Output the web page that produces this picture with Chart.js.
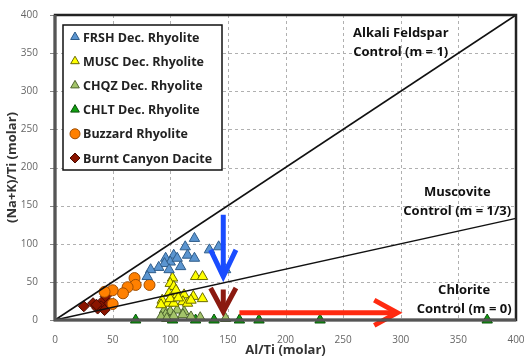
<!DOCTYPE html>
<html>
<head>
<meta charset="utf-8">
<script src="https://cdn.jsdelivr.net/npm/chart.js@4.4.1/dist/chart.umd.min.js"></script>
<style>
  html, body { margin: 0; padding: 0; background: #fff; }
  #wrap { width: 524px; height: 362px; }
</style>
</head>
<body>
<div id="wrap"><canvas id="chart" width="524" height="362"></canvas></div>
<script>
// Al/Ti vs (Na+K)/Ti, molar
const frshX = [121, 113, 134, 103, 96, 115, 121, 100, 95, 109, 90, 83, 99, 142, 80, 106, 148];
const frshY = [107, 96, 92, 85, 81, 85, 81, 76, 74, 70, 69, 66, 66, 96, 57, 81, 66];
const muscX = [102, 122, 128, 100, 103, 99, 106, 112, 120, 128, 93, 98, 103, 111, 115, 92, 100, 118, 105, 107];
const muscY = [55, 57, 57, 48, 44, 35, 33, 33, 31, 28, 26, 22, 22, 24, 22, 20, 28, 26, 39, 29];
const chqzX = [95, 100, 106, 112, 96, 103, 111, 92, 118, 126, 148, 97];
const chqzY = [13, 11, 13, 11, 7, 5, 7, 4, 4, 3, 2, 2];
const chltX = [70, 102, 122, 138, 160, 177, 230, 375];
const chltY = [0, 0, 0, 0, 0, 0, 0, 0];
const buzzX = [69, 70, 63, 59, 50, 82, 50, 43];
const buzzY = [55, 46, 43, 35, 39, 46, 21, 37];
const burntX = [25, 33, 41, 44, 40, 37, 47, 43, 36];
const burntY = [18, 22, 24, 31, 18, 15, 22, 13, 20];

const seriesNames = ['FRSH Dec. Rhyolite', 'MUSC Dec. Rhyolite', 'CHQZ Dec. Rhyolite',
                     'CHLT Dec. Rhyolite', 'Buzzard Rhyolite', 'Burnt Canyon Dacite'];

// control lines (slope m) and arrows, in data units
const feldsparLine = [[0, 0], [400, 400]];
const muscoviteLine = [[0, 0], [400, 133.3]];
const blueArrow = [[146, 138], [146, 58]];
const blueHead = [[135, 92], [146, 57], [157, 92]];
const redArrowV = [[146, 40], [146, 12]];
const redHeadV = [[135, 42], [146, 11], [157, 42]];
const redArrow = [[160, 9.5], [296, 9.5]];
const redHead = [[277, 26], [297, 9.5], [277, -7]];

const labels = [
  { lines: ['Alkali Feldspar', 'Control (m = 1)'], x: 300, y: 376 },
  { lines: ['Muscovite', 'Control (m = 1/3)'], x: 349, y: 168 },
  { lines: ['Chlorite', 'Control (m = 0)'], x: 355, y: 39 }
];

const xTicks = [0, 50, 100, 150, 200, 250, 300, 350, 400];
const yTicks = [0, 50, 100, 150, 200, 250, 300, 350, 400];

const pts = (xs, ys) => xs.map((x, i) => ({ x: x, y: ys[i] }));
const pairs = arr => arr.map(p => ({ x: p[0], y: p[1] }));

function markerSet(label, xs, ys, style, bg, border, r) {
  return {
    type: 'scatter', label: label, data: pts(xs, ys),
    pointStyle: style, pointRadius: r, pointBackgroundColor: bg,
    pointBorderColor: border, pointBorderWidth: 1, clip: false
  };
}
function lineSet(data, color, width) {
  return {
    type: 'line', data: pairs(data), borderColor: color, borderWidth: width,
    pointRadius: 0, fill: false, tension: 0, clip: false
  };
}

const markers = [
  markerSet(seriesNames[0], frshX, frshY, 'triangle', '#5b95d0', '#2e5c8a', 6),
  markerSet(seriesNames[1], muscX, muscY, 'triangle', '#ffff00', '#6b6b00', 6),
  markerSet(seriesNames[2], chqzX, chqzY, 'triangle', '#a3c46a', '#4f6630', 6),
  markerSet(seriesNames[3], chltX, chltY, 'triangle', '#11a011', '#0a4f0a', 6),
  markerSet(seriesNames[4], buzzX, buzzY, 'circle', '#ff8000', '#a04d00', 5.5),
  markerSet(seriesNames[5], burntX, burntY, 'rectRot', '#8b1500', '#4a0a00', 5.5)
];

const annotLines = [
  lineSet(feldsparLine, '#111', 1.5),
  lineSet(muscoviteLine, '#111', 1.5),
  lineSet(blueArrow, '#1a4cff', 5),
  lineSet(blueHead, '#1a4cff', 5),
  lineSet(redArrowV, '#8b1a10', 5),
  lineSet(redHeadV, '#8b1a10', 5),
  lineSet(redArrow, '#ff2a10', 5),
  lineSet(redHead, '#ff2a10', 5)
];

const FONT = '"Open Sans", sans-serif';

const extras = {
  id: 'extras',
  beforeDatasetsDraw(chart) {
    const ctx = chart.ctx, a = chart.chartArea;
    const sx = chart.scales.x, sy = chart.scales.y;
    ctx.save();
    // dashed grid
    ctx.strokeStyle = '#b0b0b0';
    ctx.lineWidth = 1;
    ctx.setLineDash([3, 3]);
    xTicks.forEach(v => {
      const px = Math.round(sx.getPixelForValue(v)) + 0.5;
      ctx.beginPath(); ctx.moveTo(px, a.top); ctx.lineTo(px, a.bottom); ctx.stroke();
    });
    yTicks.forEach(v => {
      const py = Math.round(sy.getPixelForValue(v)) + 0.5;
      ctx.beginPath(); ctx.moveTo(a.left, py); ctx.lineTo(a.right, py); ctx.stroke();
    });
    ctx.setLineDash([]);
    // tick marks
    ctx.strokeStyle = '#888';
    yTicks.forEach(v => {
      const py = Math.round(sy.getPixelForValue(v)) + 0.5;
      ctx.beginPath(); ctx.moveTo(a.left - 5, py); ctx.lineTo(a.left, py); ctx.stroke();
    });
    ctx.restore();
  },
  afterDatasetsDraw(chart) {
    const ctx = chart.ctx, a = chart.chartArea;
    const sx = chart.scales.x, sy = chart.scales.y;
    ctx.save();
    // plot border
    ctx.strokeStyle = '#222';
    ctx.lineWidth = 2.5;
    ctx.strokeRect(a.left, a.top, a.right - a.left, a.bottom - a.top);
    ctx.strokeStyle = '#555';
    ctx.lineWidth = 3;
    ctx.beginPath(); ctx.moveTo(a.left, a.top); ctx.lineTo(a.left, a.bottom); ctx.lineTo(a.right, a.bottom); ctx.stroke();
    // control labels
    ctx.fillStyle = '#111';
    ctx.font = 'bold 13px ' + FONT;
    ctx.textAlign = 'center';
    ctx.textBaseline = 'middle';
    labels.forEach(l => {
      const cx = sx.getPixelForValue(l.x), cy = sy.getPixelForValue(l.y);
      l.lines.forEach((t, i) => ctx.fillText(t, cx, cy + i * 19));
    });
    // legend box
    const lx = 63, ly = 25, lw = 159, lh = 145;
    ctx.fillStyle = '#fff';
    ctx.fillRect(lx, ly, lw, lh);
    ctx.strokeStyle = '#111';
    ctx.lineWidth = 1.5;
    ctx.strokeRect(lx, ly, lw, lh);
    ctx.textAlign = 'left';
    ctx.font = 'bold 12.5px ' + FONT;
    markers.forEach((ds, i) => {
      const y = 37 + i * 24.2;
      ctx.fillStyle = ds.pointBackgroundColor;
      ctx.strokeStyle = ds.pointBorderColor;
      ctx.lineWidth = 1;
      Chart.helpers.drawPoint(ctx, { pointStyle: ds.pointStyle, radius: 5, borderWidth: 1, rotation: 0 }, 75, y);
      ctx.fillStyle = '#222';
      ctx.fillText(ds.label, 83, y + 1);
    });
    ctx.restore();
  }
};

new Chart(document.getElementById('chart'), {
  type: 'scatter',
  data: { datasets: annotLines.concat(markers) },
  options: {
    responsive: false,
    animation: false,
    layout: { padding: { top: 15, right: 8, left: 0, bottom: 0 } },
    plugins: { legend: { display: false }, tooltip: { enabled: false } },
    scales: {
      x: {
        type: 'linear', min: 0, max: 400,
        afterBuildTicks: s => { s.ticks = xTicks.map(v => ({ value: v })); },
        afterFit: s => { s.height = 42; s.paddingRight = 0; s.paddingLeft = 0; },
        grid: { display: false },
        border: { display: false },
        ticks: { color: '#666', font: { family: FONT, size: 10 }, padding: 6 },
        title: { display: true, text: 'Al/Ti (molar)', color: '#333', font: { family: FONT, size: 13, weight: 'bold' }, padding: { top: 0 } }
      },
      y: {
        type: 'linear', min: 0, max: 400,
        afterBuildTicks: s => { s.ticks = yTicks.map(v => ({ value: v })); },
        afterFit: s => { s.width = 55; },
        grid: { display: false },
        border: { display: false },
        ticks: { color: '#666', font: { family: FONT, size: 10 }, padding: 9 },
        title: { display: true, text: '(Na+K)/Ti (molar)', color: '#333', font: { family: FONT, size: 13, weight: 'bold' }, padding: { bottom: 2 } }
      }
    }
  },
  plugins: [extras]
});
</script>
</body>
</html>
